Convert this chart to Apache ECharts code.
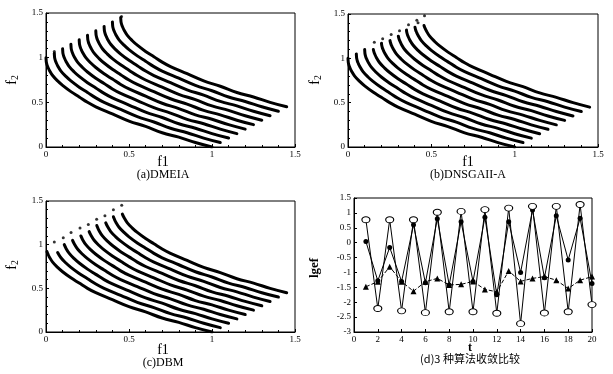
<!DOCTYPE html>
<html>
<head>
<meta charset="utf-8">
<script src="https://cdn.jsdelivr.net/npm/echarts@6/dist/echarts.min.js"></script>
<style>
html,body{margin:0;padding:0;background:#fff;}
#main{width:613px;height:374px;}
</style>
</head>
<body>
<div id="main"></div>
<script>
// 基准前沿 (f1, f2), 读自图 (a) 最下面一条
var baseFront = [[0,1.0],[0.001,0.97],[0.002,0.95],[0.006,0.92],[0.01,0.9],[0.02,0.86],[0.04,0.8],
  [0.07,0.74],[0.1,0.69],[0.15,0.62],[0.2,0.56],[0.25,0.5],[0.3,0.45],[0.4,0.37],[0.5,0.29],
  [0.6,0.23],[0.7,0.16],[0.8,0.11],[0.9,0.05],[1.0,0.0]];
// 各时刻前沿的平移量
var frontShift = [0,0.05,0.1,0.15,0.2,0.25,0.3,0.35,0.4,0.45];
// 每条前沿连续部分的起点 (基准 f2 上限)
var cutA = [1,1,1,1,1,1,1,1,1,1];
var cutB = [1,1,1,0.95,0.97,0.96,0.96,0.98,0.96,0.94];
var cutC = [0.92,0.89,0.9,0.9,0.91,0.91,0.92,0.91,0.92,0.91];
// 孤立点
var dotsA = [[0.05,1.07],[0.455,1.46]];
var dotsB = [[0.158,1.18],[0.208,1.22],[0.259,1.27],[0.309,1.31],[0.363,1.38],[0.413,1.43],[0.42,1.4],[0.459,1.48]];
var dotsC = [[0.05,1.03],[0.104,1.08],[0.151,1.14],[0.205,1.19],[0.255,1.23],[0.305,1.29],[0.355,1.33],[0.406,1.40],[0.456,1.45]];

// (d) 收敛比较
var tVals = [1,2,3,4,5,6,7,8,9,10,11,12,13,14,15,16,17,18,19,20];
var lgefCircle = [0.77,-2.21,0.77,-2.29,0.77,-2.35,1.02,-2.32,1.05,-2.32,1.11,-2.37,1.16,-2.72,1.22,-2.36,1.22,-2.32,1.28,-2.08];
var lgefDot = [0.04,-1.28,-0.16,-1.3,0.6,-1.35,0.8,-1.42,0.7,-1.3,0.85,-1.75,0.7,-1.0,1.1,-1.18,0.9,-0.58,0.82,-1.37];
var lgefTri = [-1.48,-1.31,-0.81,-1.31,-1.63,-1.31,-1.2,-1.42,-1.4,-1.3,-1.57,-1.65,-0.95,-1.3,-1.2,-1.14,-1.26,-1.54,-1.26,-1.14];

var serif = 'Liberation Serif';
var dom = document.getElementById('main');
var chart = echarts.init(dom);

function pairs(ys){
  return tVals.map(function(t,i){ return [t, ys[i]]; });
}

var grids = [
  {left:46, top:13, width:249, height:134},
  {left:348, top:14, width:250, height:133},
  {left:46, top:201, width:249, height:131},
  {left:354, top:198, width:238, height:134}
];
grids.forEach(function(g){ g.show = true; g.borderColor = '#000'; g.borderWidth = 1; g.backgroundColor = 'transparent'; });

function fmt(v){ return String(v); }

function axisCommon(idx, min, max, interval){
  return {
    type:'value', gridIndex:idx, min:min, max:max, interval:interval,
    axisLine:{show:true, onZero:false, lineStyle:{color:'#000', width:1}},
    axisTick:{show:true, inside:true, length:3, lineStyle:{color:'#000'}},
    minorTick:{show:true, splitNumber:5, length:2, lineStyle:{color:'#000'}},
    splitLine:{show:false},
    axisLabel:{color:'#000', fontFamily:serif, fontSize:9, margin:3, formatter:fmt}
  };
}

var xAxes = [], yAxes = [];
for (var k = 0; k < 3; k++) {
  xAxes.push(axisCommon(k, 0, 1.5, 0.5));
  yAxes.push(axisCommon(k, 0, 1.5, 0.5));
}
var xd = axisCommon(3, 0, 20, 2); xd.minorTick.show = false;
var yd = axisCommon(3, -3, 1.5, 0.5); yd.minorTick.show = false;
xAxes.push(xd); yAxes.push(yd);

var series = [];
[cutA, cutB, cutC].forEach(function(cut, p){
  frontShift.forEach(function(s, i){
    var pts = baseFront.filter(function(b){ return b[1] <= cut[i]; })
      .map(function(b){ return [b[0] + s, b[1] + s]; });
    series.push({
      type:'line', xAxisIndex:p, yAxisIndex:p, data:pts, smooth:0.4,
      showSymbol:false, silent:true, animation:false,
      lineStyle:{color:'#000', width:3, cap:'round'}
    });
  });
});
[dotsA, dotsB, dotsC].forEach(function(d, p){
  series.push({
    type:'scatter', xAxisIndex:p, yAxisIndex:p, data:d, symbolSize:3,
    itemStyle:{color:'#000'}, silent:true, animation:false
  });
});

series.push({
  type:'line', xAxisIndex:3, yAxisIndex:3, data:pairs(lgefTri),
  symbol:'triangle', symbolSize:6, itemStyle:{color:'#000'},
  lineStyle:{color:'#000', width:1, type:'dashed'}, animation:false
});
series.push({
  type:'line', xAxisIndex:3, yAxisIndex:3, data:pairs(lgefDot),
  symbol:'circle', symbolSize:5, itemStyle:{color:'#000'},
  lineStyle:{color:'#000', width:1}, animation:false
});
series.push({
  type:'line', xAxisIndex:3, yAxisIndex:3, data:pairs(lgefCircle),
  symbol:'circle', symbolSize:[8,6],
  itemStyle:{color:'#fff', borderColor:'#000', borderWidth:1},
  lineStyle:{color:'#000', width:1}, animation:false
});

function txt(x, y, s, size, rot, font, weight){
  return {
    type:'text', x:x, y:y, rotation:rot || 0,
    style:{
      text:s, fill:'#000', fontFamily:font || serif, fontSize:size,
      fontWeight:weight || 'normal', align:'center', verticalAlign:'middle',
      rich:{sub:{fontSize:size*0.7, fontFamily:font || serif, padding:[size*0.5,0,0,0]}}
    }
  };
}

var graphics = [
  txt(163, 162, 'f1', 14),
  txt(468, 162, 'f1', 14),
  txt(163, 350, 'f1', 14),
  txt(470, 348, 't', 12, 0, serif, 'bold'),
  txt(12, 80, 'f{sub|2}', 14, Math.PI/2),
  txt(315, 80, 'f{sub|2}', 14, Math.PI/2),
  txt(12, 265, 'f{sub|2}', 14, Math.PI/2),
  txt(315, 268, 'lgef', 13, Math.PI/2, serif, 'bold'),
  txt(163, 175, '(a)DMEIA', 12),
  txt(468, 175, '(b)DNSGAII-A', 12),
  txt(163, 363, '(c)DBM', 12),
  txt(470, 359, '(d)3 种算法收敛比较', 11, 0, 'Noto Sans CJK SC')
];

var option = {
  backgroundColor:'#fff',
  animation:false,
  grid:grids,
  xAxis:xAxes,
  yAxis:yAxes,
  series:series,
  graphic:graphics
};
chart.setOption(option);
</script>
</body>
</html>
